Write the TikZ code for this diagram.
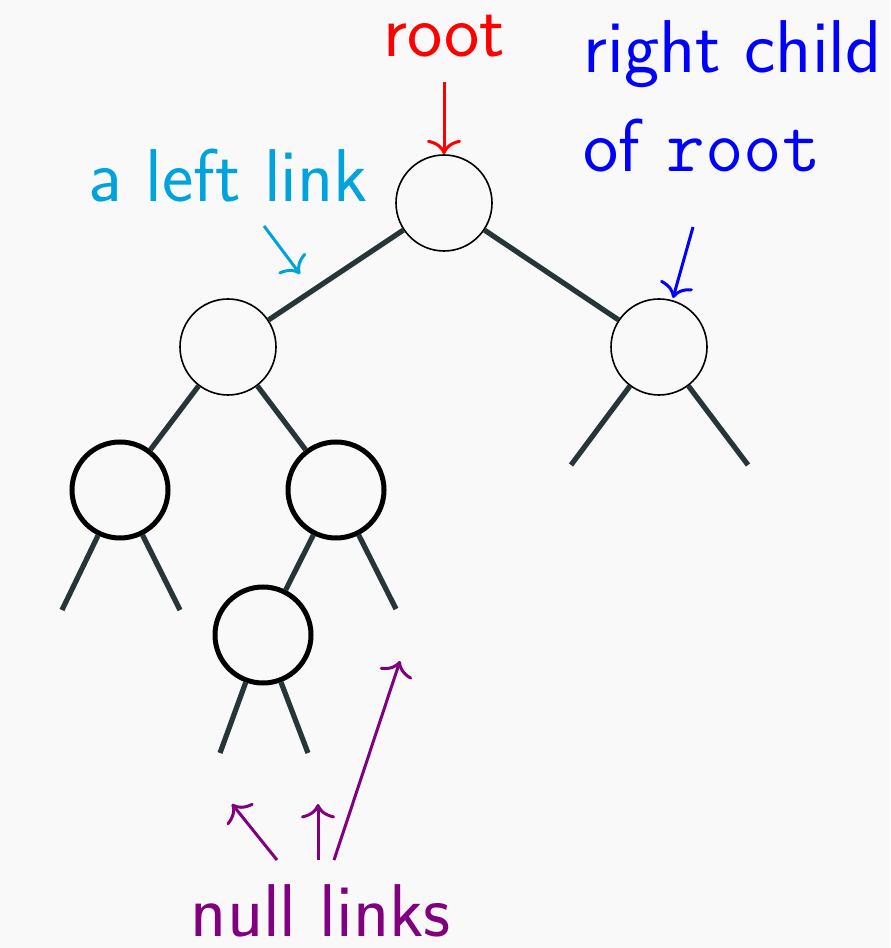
\documentclass[tikz,border=0pt]{standalone}
\usetikzlibrary{arrows.meta}
\definecolor{bgc}{RGB}{249,249,249}
\definecolor{edgec}{RGB}{37,53,56}
\definecolor{lcyan}{RGB}{0,163,220}
\definecolor{lpurple}{RGB}{128,0,128}
\begin{document}
\begin{tikzpicture}[x=0.25pt,y=-0.25pt,
  font=\sffamily\fontsize{18.7}{22}\selectfont,
  tnode/.style={circle,draw=black,fill=none,inner sep=0pt,minimum size=24pt,line width=0.4pt},
  bnode/.style={circle,draw=black,fill=none,inner sep=0pt,minimum size=24pt,line width=1.25pt},
  link/.style={draw=edgec,line width=1.3pt},
  note/.style={line width=0.75pt,-{Computer Modern Rightarrow[length=3.6pt,width=8.5pt]}},
  lbl/.style={inner sep=0pt}]
\fill[bgc] (0,0) rectangle (890,948);
\useasboundingbox (0,0) rectangle (890,948);
% nodes
\node[tnode] (root) at (444,203) {};
\node[tnode] (L) at (228,347) {};
\node[tnode] (R) at (659,347) {};
\node[bnode] (LL) at (120,490) {};
\node[bnode] (LR) at (336,490) {};
\node[bnode] (LRL) at (263,635) {};
% null link ends
\coordinate (Rn1) at (571,465);
\coordinate (Rn2) at (748,465);
\coordinate (LLn1) at (62,610);
\coordinate (LLn2) at (180,610);
\coordinate (LRn2) at (396,609);
\coordinate (LRLn1) at (220,753);
\coordinate (LRLn2) at (308,753);
% links
\draw[link] (root) -- (L);
\draw[link] (root) -- (R);
\draw[link] (L) -- (LL);
\draw[link] (L) -- (LR);
\draw[link] (R) -- (Rn1);
\draw[link] (R) -- (Rn2);
\draw[link] (LL) -- (LLn1);
\draw[link] (LL) -- (LLn2);
\draw[link] (LR) -- (LRL);
\draw[link] (LR) -- (LRn2);
\draw[link] (LRL) -- (LRLn1);
\draw[link] (LRL) -- (LRLn2);
% labels
\node[lbl,text=red,anchor=base] (troot) at (444,57) {root};
\node[lbl,text=blue,anchor=base west] (trc1) at (583,73) {right child};
\node[lbl,text=blue,anchor=base west] (trc2) at (583,172) {of \texttt{root}};
\node[lbl,text=lcyan,anchor=base west] (tleft) at (88,202) {a left link};
\node[lbl,text=lpurple,anchor=base west] (tnull) at (190,936) {null links};
% annotation arrows
\coordinate (ar1s) at (444,82);
\draw[note,red] (ar1s) -- (root.north);
\coordinate (ar2s) at (693,227);
\coordinate (ar2e) at (673,298);
\draw[note,blue] (ar2s) -- (ar2e);
\coordinate (ar3s) at (264,226);
\coordinate (ar3e) at (300,274);
\draw[note,lcyan] (ar3s) -- (ar3e);
\coordinate (ap1s) at (277,860);
\coordinate (ap1e) at (232,804);
\coordinate (ap2s) at (318,860);
\coordinate (ap2e) at (318,804);
\coordinate (ap3s) at (334,860);
\coordinate (ap3e) at (400,661);
\draw[note,lpurple] (ap1s) -- (ap1e);
\draw[note,lpurple] (ap2s) -- (ap2e);
\draw[note,lpurple] (ap3s) -- (ap3e);
\end{tikzpicture}
\end{document}
